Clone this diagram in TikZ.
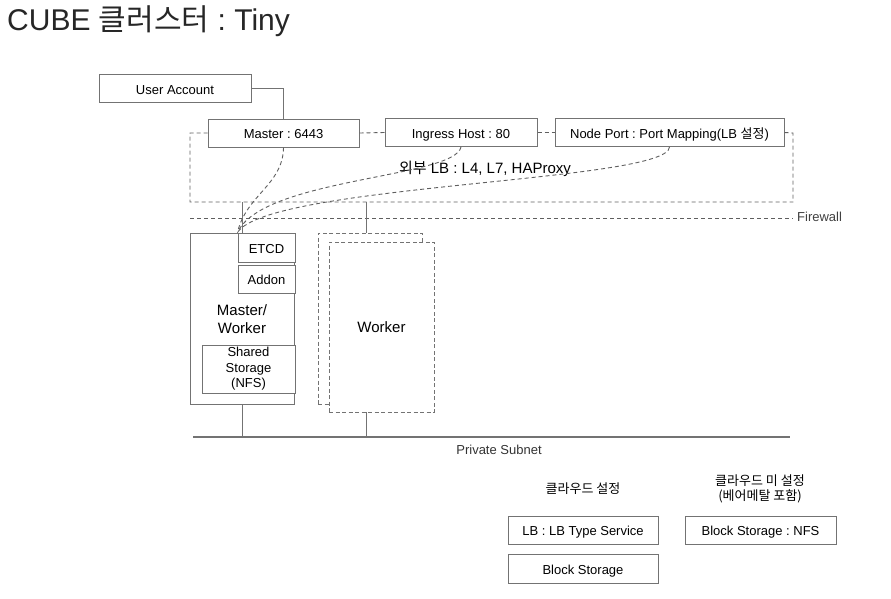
\documentclass[tikz,border=0pt]{standalone}
\usepackage{fontspec}
\setmainfont{Liberation Sans}
\newfontfamily\kr{Noto Sans CJK KR}
\usepackage{tikz}
\usetikzlibrary{positioning}
\frenchspacing
\definecolor{Gris}{RGB}{115,115,115}
\definecolor{GrisTiret}{RGB}{95,95,95}
\tikzset{
Boite/.style={
 draw=Gris, 
 line width=1pt, 
 fill=white, 
 inner sep=0pt, 
 minimum width=#1, 
 minimum height=28pt, 
 text height=11pt, 
 text depth=0pt, 
 font=\fontsize{13}{15}\selectfont
 },
Boite/.default={152pt},
BoiteTiret/.style={
 draw=Gris, 
 dash pattern=on 4pt off 2.5pt, 
 line width=1pt, 
 fill=white, 
 inner sep=0pt
 },
Tiret/.style={
 draw=GrisTiret, 
 line width=0.9pt, 
 dash pattern=on 4pt off 3pt
 },
Trait/.style={
 draw=Gris, 
 line width=1pt
 },
Texte/.style={
 inner sep=0pt, 
 align=center, 
 font=\fontsize{13}{15.5}\selectfont
 }
}
\begin{document}
\begin{tikzpicture}[x=1pt,y=-1pt]
\useasboundingbox (0,0) rectangle (891,598);
\node[anchor=west,inner sep=0pt,font=\fontsize{30}{32}\selectfont,text=black!85] (titre) at (7,21) {CUBE {\kr 클러스터} : Tiny};
% comptes et ports
\node[Boite] (user) at (175,88.5) {User Account};
\node[Boite=151pt] (master) at (283.5,133) {Master : 6443};
\node[Boite] (ingress) at (461,132.5) {Ingress Host : 80};
\node[Boite=229pt] (nodeport) at (669.5,132.5) {Node Port : Port Mapping(LB {\kr 설정})};
\draw[Trait] (user.east) -| (master.north);
\node[Texte,font=\fontsize{15}{17}\selectfont] (lb) at (485,169) {{\kr 외부} LB : L4, L7, HAProxy};
% cadre du LB externe
\coordinate (hg) at (190,133);
\coordinate (bg) at (190,202);
\coordinate (bd) at (793,202);
\coordinate (hd) at (793,133);
\draw[Tiret] (master.west) -- (hg) -- (bg) -- (bd) -- (hd) -- (nodeport.east);
\draw[Tiret] (master.east) -- (ingress.west);
\draw[Tiret] (ingress.east) -- (nodeport.west);
% pare-feu
\coordinate (fwg) at (190,218);
\coordinate (fwd) at (793,218);
\draw[Tiret] (fwg) -- (fwd);
\node[Texte,anchor=west,text=black!75] (fw) at (797,217) {Firewall};
% noeuds
\node[Boite=104pt,minimum height=171pt] (mw) at (242.5,318.5) {};
\node[Boite=57pt,minimum height=29pt] (etcd) at (266.5,247.5) {ETCD};
\node[Boite=57pt] (addon) at (266.5,279) {Addon};
\node[Texte,font=\fontsize{15}{17.5}\selectfont] (mwtexte) at (242,319) {Master/\\Worker};
\node[Boite=93pt,minimum height=48pt,Texte,text height=,text depth=] (shared) at (248.5,369) {Shared\\Storage\\(NFS)};
\node[BoiteTiret,minimum width=104pt,minimum height=171pt] (wback) at (370,318.5) {};
\node[BoiteTiret,minimum width=105pt,minimum height=170pt,font=\fontsize{15}{17}\selectfont] (worker) at (381.5,327) {Worker};
\coordinate (lbm) at (242,202);
\coordinate (lbw) at (366,202);
\draw[Trait] (lbm) -- (lbm |- mw.north);
\draw[Trait] (lbw) -- (lbw |- wback.north);
% liaisons pointillees vers ETCD
\draw[Tiret] (master.south) .. controls (283,185) and (246,195) .. (etcd.north west);
\draw[Tiret] (ingress.south) .. controls (455,178) and (262,178) .. (etcd.north west);
\draw[Tiret] (nodeport.south) .. controls (668,182) and (268,184) .. (etcd.north west);
% sous-reseau prive
\coordinate (sg) at (193,437);
\coordinate (sd) at (790,437);
\draw[Trait,line width=1.4pt] (sg) -- (sd);
\draw[Trait] (mw.south) -- (mw.south |- sg);
\draw[Trait] (366,412) coordinate (wbas) -- (wbas |- sg);
\node[Texte,text=black!80] (subnet) at (499,450) {Private Subnet};
% stockage
\node[Texte,font=\kr\fontsize{13}{15.5}\selectfont] (cloud) at (583,489) {클라우드 설정};
\node[Texte,font=\kr\fontsize{13}{15}\selectfont] (nocloud) at (760,489) {클라우드 미 설정\\(베어메탈 포함)};
\node[Boite=150pt] (lbtype) at (583,530) {LB : LB Type Service};
\node[Boite=150pt,minimum height=29pt] (block) at (583,568.5) {Block Storage};
\node[Boite=151pt] (nfs) at (760.5,530) {Block Storage : NFS};
\end{tikzpicture}
\end{document}
